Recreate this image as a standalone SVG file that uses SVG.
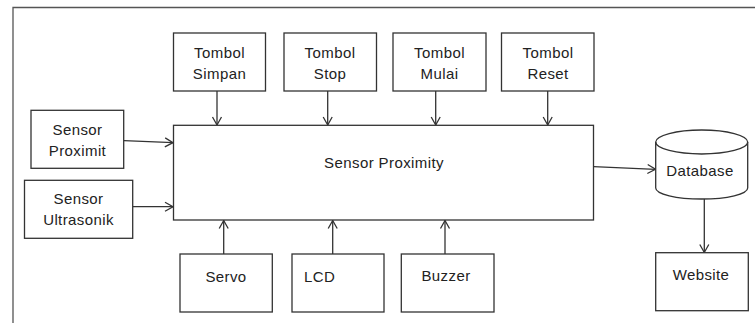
<svg xmlns="http://www.w3.org/2000/svg" width="755" height="323" viewBox="0 0 755 323">
<style>
.box{fill:#fff;stroke:#333;stroke-width:1.3}
.t{font-family:"Liberation Sans",Arial,sans-serif;font-size:15px;letter-spacing:0.4px;fill:#222;text-anchor:middle}
.c{fill:none;stroke:#333;stroke-width:1.3;marker-end:url(#ah)}
</style>
<defs>
<marker id="ah" markerUnits="userSpaceOnUse" markerWidth="14" markerHeight="14" refX="10" refY="7" orient="auto">
<path d="M2,2.5 L10,7 L2,11.5" fill="none" stroke="#333" stroke-width="1.3"/>
</marker>
</defs>
<path d="M13,323 V7.5 H755" fill="none" stroke="#555" stroke-width="1.3"/>
<g id="connectors">
<line class="c" x1="217" y1="91" x2="217" y2="125"/>
<line class="c" x1="327.7" y1="91" x2="327.7" y2="125"/>
<line class="c" x1="435.7" y1="91" x2="435.7" y2="125"/>
<line class="c" x1="547.7" y1="91" x2="547.7" y2="125"/>
<line class="c" x1="124" y1="140.7" x2="173" y2="142.7"/>
<line class="c" x1="133" y1="206.7" x2="173" y2="206.7"/>
<line class="c" x1="223.7" y1="254" x2="223.7" y2="220.5"/>
<line class="c" x1="332.7" y1="254" x2="332.7" y2="220.5"/>
<line class="c" x1="445" y1="254" x2="445" y2="220.5"/>
<line class="c" x1="593.5" y1="166.7" x2="655.5" y2="169.3"/>
<line class="c" x1="704.3" y1="199" x2="704.3" y2="252.5"/>
</g>
<g id="tombol-simpan"><rect class="box" x="173.5" y="33" width="92" height="58"/><text class="t" x="219.5" y="57.5">Tombol</text><text class="t" x="219.5" y="78.5">Simpan</text></g>
<g id="tombol-stop"><rect class="box" x="284" y="33" width="92.5" height="58"/><text class="t" x="330" y="57.5">Tombol</text><text class="t" x="330" y="78.5">Stop</text></g>
<g id="tombol-mulai"><rect class="box" x="393" y="33" width="93" height="58"/><text class="t" x="439.5" y="57.5">Tombol</text><text class="t" x="439.5" y="78.5">Mulai</text></g>
<g id="tombol-reset"><rect class="box" x="501.5" y="33" width="92.5" height="58"/><text class="t" x="548" y="57.5">Tombol</text><text class="t" x="548" y="78.5">Reset</text></g>
<g id="sensor-proximity-main"><rect class="box" x="173.5" y="125.3" width="420" height="94.7"/><text class="t" x="384" y="168">Sensor Proximity</text></g>
<g id="sensor-proximit"><rect class="box" x="31" y="110.3" width="92.7" height="58"/><text class="t" x="77.5" y="134.5">Sensor</text><text class="t" x="77.5" y="156">Proximit</text></g>
<g id="sensor-ultrasonik"><rect class="box" x="24.5" y="180.3" width="108.2" height="58"/><text class="t" x="78.5" y="204">Sensor</text><text class="t" x="78.5" y="225">Ultrasonik</text></g>
<g id="servo"><rect class="box" x="180" y="254" width="92.3" height="58"/><text class="t" x="226" y="282">Servo</text></g>
<g id="lcd"><rect class="box" x="292" y="254" width="92" height="58"/><text class="t" x="304" y="282" style="text-anchor:start">LCD</text></g>
<g id="buzzer"><rect class="box" x="401.3" y="254" width="92.7" height="58"/><text class="t" x="446" y="281">Buzzer</text></g>
<g id="database">
<path class="box" d="M655.7,142 A46,12 0 0 1 747.7,142 V188 A46,11 0 0 1 655.7,188 Z"/>
<path d="M655.7,142 A46,12 0 0 0 747.7,142" fill="none" stroke="#333" stroke-width="1.3"/>
<text class="t" x="700" y="175.5">Database</text>
</g>
<g id="website"><rect class="box" x="655.7" y="252.7" width="92.6" height="58"/><text class="t" x="701" y="280">Website</text></g>
</svg>
